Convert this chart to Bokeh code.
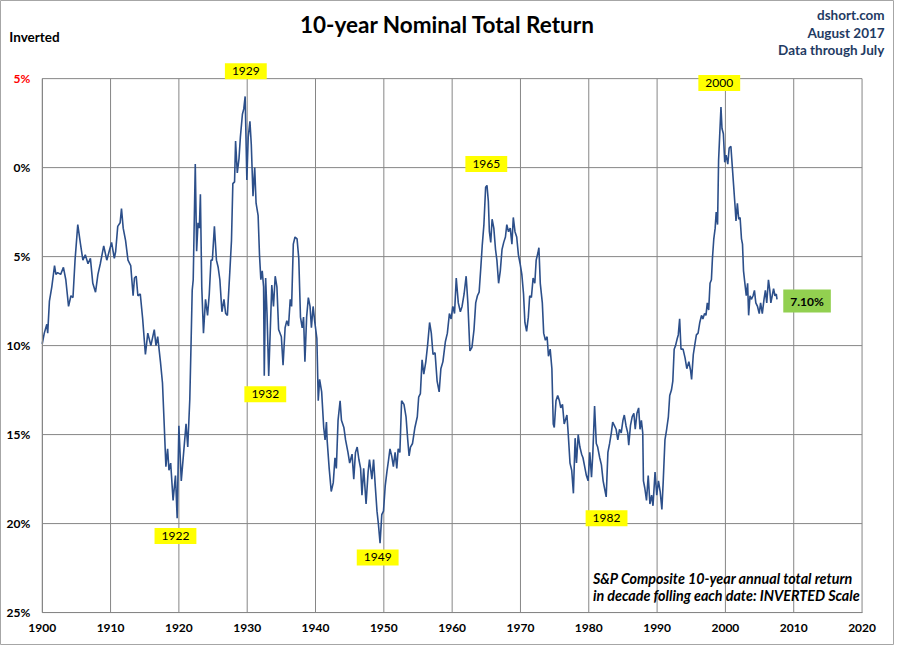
from bokeh.plotting import figure
from bokeh.models import Range1d, Label, FixedTicker
from bokeh.embed import file_html
from bokeh.resources import INLINE

# ---- data ----
years = [
    1900.0, 1900.3, 1900.67, 1900.8, 1901.05, 1901.4, 1901.8, 1902.0, 1902.25, 1902.7,
    1903.1, 1903.45, 1903.85, 1904.2, 1904.5, 1904.8, 1905.2, 1905.6, 1905.95, 1906.3,
    1906.7, 1907.05, 1907.4, 1907.8, 1908.15, 1908.5, 1909.0, 1909.45, 1909.8, 1910.15,
    1910.55, 1910.75, 1911.05, 1911.4, 1911.6, 1911.85, 1912.2, 1912.55, 1912.95, 1913.3,
    1913.5, 1913.75, 1914.0, 1914.35, 1914.7, 1915.1, 1915.45, 1915.9, 1916.4, 1916.65,
    1916.9, 1917.3, 1917.6, 1917.85, 1918.1, 1918.35, 1918.55, 1918.8, 1919.15, 1919.5,
    1919.75, 1920.0, 1920.35, 1920.7, 1921.05, 1921.3, 1921.6,
    1921.8, 1921.95, 1922.1, 1922.4, 1922.6, 1922.8, 1923.0, 1923.15, 1923.35, 1923.6,
    1923.9, 1924.2, 1924.45, 1924.7, 1924.9, 1925.2, 1925.5, 1925.75, 1926.0, 1926.3,
    1926.6, 1926.85, 1927.1, 1927.45, 1927.7, 1927.9, 1928.15, 1928.3, 1928.55, 1928.8,
    1929.0, 1929.3, 1929.5, 1929.7, 1929.95, 1930.15, 1930.4, 1930.6, 1930.85, 1931.1,
    1931.3, 1931.6, 1931.8, 1932.0, 1932.2, 1932.4, 1932.5, 1932.7, 1932.9, 1933.15,
    1933.4, 1933.6, 1933.85, 1934.1, 1934.35, 1934.6, 1935.0, 1935.25, 1935.55, 1935.8,
    1936.05, 1936.3, 1936.5, 1936.75, 1937.0, 1937.3, 1937.55, 1937.8, 1938.05, 1938.25,
    1938.45, 1938.7, 1938.95, 1939.2, 1939.4, 1939.65, 1939.9,
    1940.2, 1940.4, 1940.6, 1940.9, 1941.2, 1941.4, 1941.6, 1941.7, 1942.0, 1942.3,
    1942.6, 1942.85, 1943.05, 1943.3, 1943.6, 1943.8, 1944.15, 1944.4, 1944.75, 1945.0,
    1945.35, 1945.6, 1945.85, 1946.1, 1946.35, 1946.6, 1946.8, 1947.05, 1947.4, 1947.7,
    1947.9, 1948.25, 1948.5, 1948.75, 1949.0, 1949.2, 1949.45, 1949.7, 1949.95, 1950.2,
    1950.45, 1950.7, 1950.9, 1951.15, 1951.4, 1951.65, 1951.9, 1952.1, 1952.35, 1952.6,
    1952.95, 1953.25, 1953.5, 1953.7, 1953.9, 1954.2, 1954.55, 1954.9, 1955.1, 1955.35,
    1955.6, 1955.85, 1956.15, 1956.4, 1956.7, 1956.95, 1957.2, 1957.5, 1957.8, 1958.1,
    1958.35, 1958.65, 1959.0, 1959.3, 1959.6, 1959.85, 1960.1, 1960.35, 1960.6, 1960.9,
    1961.2, 1961.45, 1961.75, 1962.05, 1962.3, 1962.6, 1962.9,
    1963.2, 1963.45, 1963.7, 1963.95, 1964.2, 1964.4, 1964.65, 1964.9, 1965.1, 1965.3,
    1965.45, 1965.65, 1965.85, 1966.1, 1966.35, 1966.55, 1966.8, 1967.05, 1967.3, 1967.55,
    1967.8, 1968.0, 1968.25, 1968.5, 1968.75, 1968.95, 1969.2, 1969.45, 1969.7, 1969.95,
    1970.2, 1970.45, 1970.65, 1970.9, 1971.15, 1971.35, 1971.6, 1971.85, 1972.1, 1972.3,
    1972.55, 1972.7, 1972.9, 1973.2, 1973.4, 1973.65, 1973.9, 1974.1, 1974.35, 1974.6,
    1974.8, 1974.95, 1975.2, 1975.45, 1975.7, 1975.9, 1976.15, 1976.4, 1976.8, 1977.0,
    1977.25, 1977.5, 1977.75, 1978.0, 1978.2, 1978.45, 1978.7, 1978.95, 1979.15, 1979.4,
    1979.65, 1979.9, 1980.15, 1980.4, 1980.6, 1980.85, 1981.1, 1981.3,
    1981.6, 1981.85, 1982.1, 1982.3, 1982.55, 1982.8, 1983.05, 1983.3, 1983.5, 1983.75,
    1984.0, 1984.25, 1984.5, 1984.75, 1985.0, 1985.2, 1985.45, 1985.7, 1985.85, 1986.1,
    1986.35, 1986.6, 1986.8, 1987.05, 1987.3, 1987.5, 1987.7, 1987.9, 1988.0, 1988.2,
    1988.45, 1988.7, 1988.95, 1989.2, 1989.4, 1989.7, 1989.95, 1990.2, 1990.45, 1990.7,
    1990.9, 1991.15, 1991.4, 1991.65, 1991.85, 1992.1, 1992.3, 1992.5, 1992.7, 1992.95,
    1993.1, 1993.3, 1993.5, 1993.8, 1994.1, 1994.35, 1994.65, 1994.9, 1995.05, 1995.3,
    1995.5, 1995.75, 1996.0, 1996.25, 1996.5, 1996.7, 1996.95, 1997.15, 1997.35, 1997.55,
    1997.75, 1997.95, 1998.1, 1998.3, 1998.5, 1998.65, 1998.85, 1999.0, 1999.15, 1999.35,
    1999.5, 1999.7, 1999.9, 2000.1, 2000.35, 2000.55, 2000.8, 2001.0, 2001.2, 2001.4,
    2001.55, 2001.75, 2001.95, 2002.15, 2002.35, 2002.5, 2002.65, 2002.85, 2003.05, 2003.25,
    2003.4, 2003.6, 2003.8, 2004.05, 2004.25, 2004.45, 2004.7, 2004.95, 2005.15, 2005.4,
    2005.65, 2005.85, 2006.05, 2006.3, 2006.5, 2006.65, 2006.85, 2007.05, 2007.25, 2007.45,
    2007.55,
]
returns = [
    9.9, 9.3, 8.8, 9.3, 7.5, 6.7, 5.5, 6.0, 5.9, 6.0,
    5.6, 6.3, 7.8, 7.2, 7.3, 5.2, 3.2, 4.3, 5.2, 4.9,
    5.4, 5.1, 6.5, 7.0, 6.0, 5.4, 4.4, 5.2, 4.7, 4.2,
    5.1, 4.7, 3.3, 3.1, 2.3, 3.4, 4.1, 5.2, 5.5, 7.2,
    6.2, 6.1, 7.2, 7.1, 8.5, 10.5, 9.3, 10.0, 9.1, 10.0,
    9.5, 10.9, 12.1, 14.4, 16.8, 15.8, 17.0, 16.6, 18.7, 17.3,
    19.7, 14.5, 17.6, 16.0, 14.4, 15.7, 13.0,
    9.6, 6.9, 6.3, -0.2, 4.7, 3.1, 3.4, 1.5, 6.7, 9.3,
    7.4, 8.3, 7.1, 5.2, 5.2, 3.3, 5.2, 5.6, 6.3, 8.1,
    7.4, 8.2, 8.3, 5.9, 4.1, 0.9, 0.8, -1.5, 0.3, -0.5,
    -1.7, -3.0, -3.3, -4.0, 0.7, -1.7, -2.6, -1.3, 1.6, 0.0,
    2.0, 2.7, 4.9, 6.3, 5.8, 6.7, 11.7, 6.2, 8.2, 11.7,
    8.9, 6.6, 7.8, 6.1, 6.7, 9.1, 9.5, 11.1, 9.0, 8.6,
    8.9, 7.4, 7.8, 4.3, 3.9, 4.0, 5.1, 8.4, 9.0, 8.4,
    10.9, 8.4, 7.3, 7.8, 9.0, 7.8, 8.7,
    9.6, 13.1, 11.9, 12.6, 14.6, 15.3, 14.3, 15.3, 16.9, 18.2,
    17.7, 16.3, 16.9, 14.2, 13.1, 14.2, 14.6, 15.3, 16.0, 16.6,
    16.1, 17.5, 16.0, 15.7, 16.4, 16.9, 18.4, 16.9, 18.9, 17.1,
    16.4, 17.5, 16.4, 17.9, 19.3, 20.0, 21.1, 19.5, 19.3, 17.9,
    17.1, 16.4, 15.8, 16.2, 16.8, 16.0, 16.9, 15.8, 16.0, 13.1,
    13.3, 14.0, 15.3, 16.2, 15.7, 15.5, 14.6, 14.0, 12.9, 12.7,
    10.8, 11.6, 10.9, 10.0, 8.7, 9.3, 10.5, 10.4, 12.0, 12.6,
    11.3, 10.9, 9.8, 9.3, 8.2, 8.5, 7.8, 8.2, 6.2, 7.6,
    8.1, 7.8, 7.1, 6.1, 7.6, 10.3, 10.1,
    9.1, 7.6, 7.2, 7.0, 5.6, 4.4, 3.2, 1.1, 1.0, 1.9,
    3.6, 4.2, 2.9, 3.4, 4.6, 5.2, 6.5, 5.8, 4.6, 4.2,
    3.9, 3.2, 3.6, 3.4, 4.3, 2.8, 3.6, 3.9, 4.9, 5.4,
    6.0, 7.1, 8.7, 9.2, 8.4, 7.2, 7.3, 6.2, 6.5, 5.2,
    4.8, 4.5, 6.5, 7.6, 9.3, 9.7, 9.5, 10.6, 10.2, 11.3,
    14.4, 14.6, 13.1, 12.8, 13.1, 13.5, 13.3, 14.4, 13.9, 15.0,
    16.6, 17.0, 18.3, 15.2, 16.6, 15.0, 15.7, 16.1, 16.3, 16.8,
    17.3, 17.6, 16.0, 17.4, 16.0, 13.4, 15.5, 15.7,
    16.3, 16.7, 17.6, 18.0, 18.5, 16.0, 15.5, 14.9, 14.3, 14.5,
    14.7, 15.3, 14.7, 14.9, 14.2, 13.9, 14.5, 14.9, 15.6, 14.5,
    14.0, 13.8, 14.7, 13.8, 13.5, 14.7, 14.2, 14.9, 17.6, 18.0,
    18.7, 17.3, 18.9, 18.4, 19.0, 17.1, 18.4, 17.6, 18.2, 19.2,
    17.6, 15.3, 14.7, 14.0, 12.8, 12.5, 12.0, 10.2, 10.0, 9.6,
    9.4, 8.5, 10.2, 10.2, 10.7, 11.3, 10.9, 11.4, 11.9, 10.5,
    10.0, 9.4, 9.3, 8.7, 8.3, 8.5, 8.2, 8.3, 7.6, 8.0,
    6.5, 6.3, 5.1, 4.0, 3.4, 2.5, 3.2, -0.4, -1.7, -3.4,
    -2.2, -1.9, -0.3, -0.7, -0.2, -1.1, -1.2, -0.1, 1.0, 2.1,
    3.0, 2.0, 2.9, 2.8, 4.0, 4.3, 5.8, 6.5, 7.2, 6.5,
    8.3, 7.2, 7.4, 7.2, 6.9, 7.6, 7.8, 8.2, 7.6, 8.2,
    7.4, 6.9, 7.6, 6.3, 6.9, 7.6, 7.2, 6.8, 7.2, 7.1,
    7.4,
]

x_ticks = [1900, 1910, 1920, 1930, 1940, 1950, 1960, 1970, 1980, 1990, 2000, 2010, 2020]
y_ticks = [-5, 0, 5, 10, 15, 20, 25]
y_tick_labels = ["5%", "0%", "5%", "10%", "15%", "20%", "25%"]

peak_labels = ["1929", "1922", "1932", "1949", "1965", "1982", "2000"]
peak_label_x = [1929.8, 1919.5, 1932.65, 1949.1, 1965.0, 1982.6, 1999.1]
peak_label_y = [-5.42, 20.7, 12.73, 21.9, -0.2, 19.7, -4.75]
latest_label = "7.10%"

GRID = "#868686"
LINE = "#2c4f8a"
NAVY = "#1f3b63"
FONT = "Lato"

x0, x1 = x_ticks[0], x_ticks[-1]
y0, y1 = y_ticks[0], y_ticks[-1]

# The frame fills the whole canvas; the chart area is 1900-2020 x -5..25%,
# the extra range holds the heading texts.
p = figure(width=894, height=645, output_backend="svg", toolbar_location=None,
           x_range=Range1d(1893.89, 2024.75), y_range=Range1d(26.85, -9.39),
           min_border_left=0, min_border_right=0, min_border_top=0,
           min_border_bottom=0)
p.background_fill_color = "white"
p.border_fill_color = "white"
p.outline_line_color = "#a6a6a6"
p.outline_line_width = 1
p.grid.visible = False

# grid lines at the ticks, confined to the chart area
p.segment(x0=x_ticks, y0=[y0] * len(x_ticks), x1=x_ticks, y1=[y1] * len(x_ticks),
          line_color=GRID, line_width=1)
p.segment(x0=[x0] * len(y_ticks), y0=y_ticks, x1=[x1] * len(y_ticks), y1=y_ticks,
          line_color=GRID, line_width=1)

# axes placed at the chart-area edges
p.xaxis.ticker = FixedTicker(ticks=x_ticks)
p.yaxis.ticker = FixedTicker(ticks=y_ticks)
p.xaxis.fixed_location = y1
p.yaxis.fixed_location = x0
p.xaxis.bounds = (x0, x1)
p.yaxis.bounds = (y0, y1)
overrides = {t: lab for t, lab in zip(y_ticks, y_tick_labels)}
overrides[y_ticks[0]] = ""  # first tick drawn in red separately
p.yaxis.major_label_overrides = overrides
for ax in (p.xaxis[0], p.yaxis[0]):
    ax.axis_line_color = GRID
    ax.major_tick_line_color = None
    ax.minor_tick_line_color = None
    ax.major_tick_in = 0
    ax.major_tick_out = 0
    ax.major_label_text_font = FONT
    ax.major_label_text_font_style = "bold"
    ax.major_label_text_font_size = "12px"
    ax.major_label_text_color = "black"
p.yaxis.major_label_standoff = 12
p.xaxis.major_label_standoff = 11

# series
p.line(years, returns, line_color=LINE, line_width=1.6)

# red top tick label
p.add_layout(Label(x=x0, y=y_ticks[0], x_offset=-12, text=y_tick_labels[0],
                   text_align="right", text_baseline="middle", text_color="red",
                   text_font=FONT, text_font_style="bold", text_font_size="12px"))

# headings
p.add_layout(Label(x=1959.32, y=-8.02, text="10-year Nominal Total Return",
                   text_align="center", text_baseline="middle", text_color="black",
                   text_font=FONT, text_font_style="bold", text_font_size="22.5px"))
p.add_layout(Label(x=1895.18, y=-7.36, text="Inverted", text_align="left",
                   text_baseline="middle", text_color="black",
                   text_font=FONT, text_font_style="bold", text_font_size="13.5px"))
for txt, yy in [("dshort.com", -8.57), ("August 2017", -7.58), ("Data through July", -6.6)]:
    p.add_layout(Label(x=2023.31, y=yy, text=txt, text_align="right",
                       text_baseline="middle", text_color=NAVY,
                       text_font=FONT, text_font_style="bold", text_font_size="13.5px"))

# notes
for txt, yy in [("S&P Composite 10-year  annual total return", 23.06),
                ("in decade folling each date: INVERTED Scale", 24.05)]:
    p.add_layout(Label(x=1980.6, y=yy, text=txt, text_align="left",
                       text_baseline="middle", text_color="black",
                       text_font=FONT, text_font_style="bold italic",
                       text_font_size="14.3px"))

# peak labels
for txt, xx, yy in zip(peak_labels, peak_label_x, peak_label_y):
    p.add_layout(Label(x=xx, y=yy, text=txt, text_align="center",
                       text_baseline="middle", text_color="black",
                       text_font=FONT, text_font_size="12px",
                       background_fill_color="#ffff00", padding=(7, 4)))

p.add_layout(Label(x=2011.95, y=7.5, text=latest_label, text_align="center",
                   text_baseline="middle", text_color="black",
                   text_font=FONT, text_font_style="bold", text_font_size="12px",
                   background_fill_color="#92d050", padding=(7, 4)))

open("out.html", "w").write(file_html(p, INLINE))
